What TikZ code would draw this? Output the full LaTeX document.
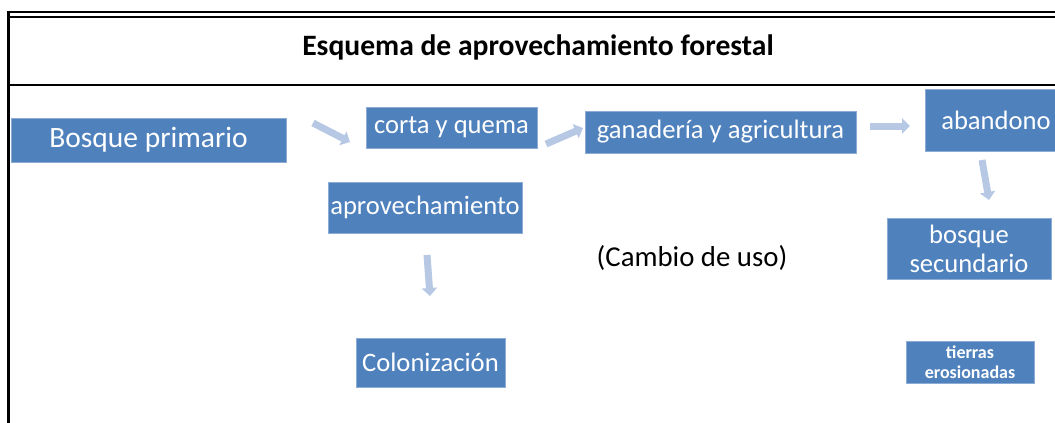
\documentclass[tikz,border=0pt]{standalone}
\usepackage{fontspec}
\setmainfont{Carlito}
\usetikzlibrary{arrows.meta}
\definecolor{boxblue}{RGB}{79,129,189}
\definecolor{boxedge}{RGB}{140,172,214}
\definecolor{arrowblue}{RGB}{182,200,228}
\begin{document}
\begin{tikzpicture}[x=1pt,y=-1pt,
  box/.style={fill=boxblue, draw=boxedge, line width=0.6pt, text=white, inner sep=0pt,
    align=center, font=\fontsize{26.6}{29}\selectfont},
  flow/.style={draw=arrowblue, line width=7pt, -{Triangle[length=8pt,width=15pt,fill=arrowblue]}},
  frame/.style={draw=black, line width=2pt}]
\useasboundingbox (0,0) rectangle (1055,423);
% frame
\draw[frame, line width=2.6pt] (8.5,423) -- (8.5,12) -- (1055,12);
\draw[frame] (10,16.5) -- (1055,16.5);
\draw[frame] (10,85) -- (1055,85);
\node[font=\bfseries\fontsize{29.6}{32}\selectfont] (title) at (538,47) {Esquema de aprovechamiento forestal};
% boxes
\node[box, minimum width=275pt, minimum height=44pt, font=\fontsize{29.5}{33}\selectfont] (bp) at (148.5,140) {Bosque primario};
\node[box, minimum width=171pt, minimum height=41pt] (cq) at (451.5,127.5) {corta y quema};
\node[box, minimum width=194pt, minimum height=51pt] (ap) at (425,207.5) {aprovechamiento};
\node[box, minimum width=271pt, minimum height=42pt] (ga) at (720.5,132) {ganadería y agricultura};
\node[box, minimum width=142pt, minimum height=62pt] (ab) at (996,120) {abandono};
\node[box, minimum width=164pt, minimum height=61pt] (bs) at (969,248.5) {bosque\\secundario};
\node[box, minimum width=149pt, minimum height=49pt] (co) at (430.5,362.5) {Colonización};
\node[box, minimum width=128pt, minimum height=42pt, font=\bfseries\fontsize{18}{20}\selectfont] (te) at (970,362) {tierras\\erosionadas};
\node[font=\fontsize{28.8}{31}\selectfont] (cu) at (692,258) {(Cambio de uso)};
% arrows
\coordinate (a1s) at (313,123); \coordinate (a1e) at (350,142);
\coordinate (a2s) at (546,144); \coordinate (a2e) at (583,128);
\coordinate (a3s) at (870,126); \coordinate (a3e) at (910,126);
\coordinate (a4s) at (982,160); \coordinate (a4e) at (989,200);
\coordinate (a5s) at (427,255); \coordinate (a5e) at (430,296);
\draw[flow] (a1s) -- (a1e);
\draw[flow] (a2s) -- (a2e);
\draw[flow] (a3s) -- (a3e);
\draw[flow] (a4s) -- (a4e);
\draw[flow] (a5s) -- (a5e);
\end{tikzpicture}
\end{document}
